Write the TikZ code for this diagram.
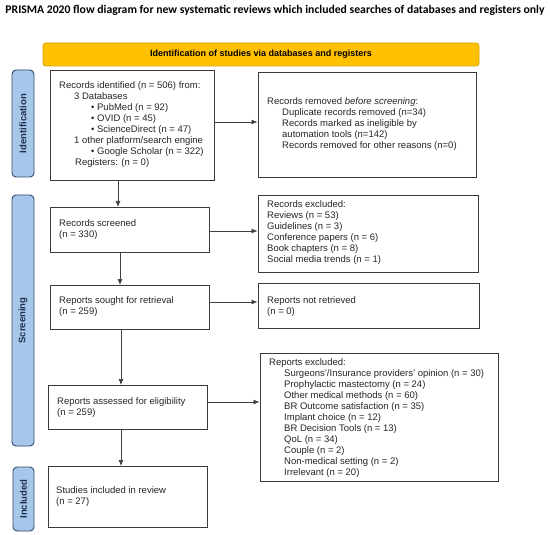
\documentclass[tikz,border=0pt]{standalone}
\usepackage{fontspec}
\setmainfont{Liberation Sans}
\newfontfamily\titlefont{Carlito}
\usetikzlibrary{arrows.meta}
\definecolor{hdrfill}{HTML}{FFC000}
\definecolor{hdrdraw}{HTML}{D9A400}
\definecolor{sidefill}{HTML}{A7C7EA}
\definecolor{sidedraw}{HTML}{2E4A6E}
\definecolor{sidetext}{HTML}{1F3050}
\definecolor{boxdraw}{HTML}{3A3A3A}
\tikzset{
  box/.style={draw=boxdraw, line width=0.9pt, fill=white, inner sep=0pt},
  hdr/.style={draw=hdrdraw, line width=0.8pt, fill=hdrfill, rounded corners=3pt, inner sep=0pt,
    font=\fontsize{9}{11}\selectfont\bfseries},
  side/.style={draw=sidedraw, line width=0.9pt, fill=sidefill, rounded corners=4pt, inner sep=0pt},
  sidelbl/.style={rotate=90, font=\fontsize{9.5}{11}\selectfont\bfseries, text=sidetext, inner sep=0pt},
  txt/.style={anchor=north west, align=left, inner sep=0pt, font=\fontsize{9.5}{11}\selectfont, text=black!85},
  arr/.style={draw=black!75, line width=0.7pt, -{Latex[length=6pt,width=5pt]}},
}
\newcommand{\rectnode}[6]{% name, style, x1, y1, x2, y2
  \node[#2, minimum width={(#5-#3)*1pt}, minimum height={(#6-#4)*1pt}] (#1) at ({(#3+#5)/2},{(#4+#6)/2}) {};}
\begin{document}
\begin{tikzpicture}[x=1pt,y=-1pt]
\useasboundingbox (0,0) rectangle (550,535);
\fill[white] (0,0) rectangle (550,535);

% title
\node[anchor=center, inner sep=0pt, font=\titlefont\fontsize{11.7}{13}\selectfont\bfseries] (title) at (275,10) {PRISMA 2020 flow diagram for new systematic reviews which included searches of databases and registers only};

% header
\node[hdr, minimum width=436pt, minimum height=23pt] (hdr) at (261,54.5) {Identification of studies via databases and registers};

% side bars
\rectnode{sideI}{side}{12}{70}{34}{177}
\rectnode{sideS}{side}{12}{195}{34}{446}
\rectnode{sideN}{side}{13}{467}{34}{531}
\node[sidelbl] at (sideI.center) {Identification};
\node[sidelbl] at (sideS.center) {Screening};
\node[sidelbl] at (sideN.center) {Included};

% boxes
\rectnode{b1}{box}{50}{70}{214}{180}
\rectnode{b2}{box}{258}{72}{476}{177}
\rectnode{b3}{box}{50}{207}{209}{252}
\rectnode{b4}{box}{258}{195}{478}{272}
\rectnode{b5}{box}{50}{285}{209}{329}
\rectnode{b6}{box}{258}{283}{479}{328}
\rectnode{b7}{box}{48}{385}{207}{429}
\rectnode{b8}{box}{260}{353}{498}{481}
\rectnode{b9}{box}{48}{466}{207}{527}

% texts
\node[txt] (t1) at (59,81) {\strut Records identified (n = 506) from:\\
\hspace*{15pt}3 Databases\\
\hspace*{32pt}•\ PubMed (n = 92)\\
\hspace*{32pt}•\ OVID (n = 45)\\
\hspace*{32pt}•\ ScienceDirect (n = 47)\\
\hspace*{15pt}1 other platform/search engine\\
\hspace*{32pt}•\ Google Scholar (n = 322)\\
\hspace*{16pt}Registers: (n = 0)};

\node[txt] (t2) at (267,97) {\strut Records removed \textit{before screening}:\\
\hspace*{15pt}Duplicate records removed (n=34)\\
\hspace*{15pt}Records marked as ineligible by\\
\hspace*{15pt}automation tools (n=142)\\
\hspace*{15pt}Records removed for other reasons (n=0)};

\node[txt] (t3) at (59,218.5) {\strut Records screened\\(n = 330)};

\node[txt] (t4) at (267,200) {\strut Records excluded:\\
Reviews (n = 53)\\
Guidelines (n = 3)\\
Conference papers (n = 6)\\
Book chapters (n = 8)\\
Social media trends (n = 1)};

\node[txt] (t5) at (59,295.5) {\strut Reports sought for retrieval\\(n = 259)};
\node[txt] (t6) at (267,295.5) {\strut Reports not retrieved\\(n = 0)};
\node[txt] (t7) at (57,396.5) {\strut Reports assessed for eligibility\\(n = 259)};

\node[txt] (t8) at (269,357.5) {\strut Reports excluded:\\
\hspace*{15pt}Surgeons'/Insurance providers' opinion (n = 30)\\
\hspace*{15pt}Prophylactic mastectomy (n = 24)\\
\hspace*{15pt}Other medical methods (n = 60)\\
\hspace*{15pt}BR Outcome satisfaction (n = 35)\\
\hspace*{15pt}Implant choice (n = 12)\\
\hspace*{15pt}BR Decision Tools (n = 13)\\
\hspace*{15pt}QoL (n = 34)\\
\hspace*{15pt}Couple (n = 2)\\
\hspace*{15pt}Non-medical setting (n = 2)\\
\hspace*{15pt}Irrelevant (n = 20)};

\node[txt] (t9) at (56,485.5) {\strut Studies included in review\\(n = 27)};

% connectors
\draw[arr] (b1.east |- 0,122) -- (b2.west |- 0,122);
\draw[arr] (118,180) -- (118,207);
\draw[arr] (b3.east |- 0,231) -- (b4.west |- 0,231);
\draw[arr] (120,252) -- (120,285);
\draw[arr] (b5.east |- 0,302) -- (b6.west |- 0,302);
\draw[arr] (121,329) -- (121,385);
\draw[arr] (b7.east |- 0,402) -- (b8.west |- 0,402);
\draw[arr] (121,429) -- (121,466);
\end{tikzpicture}
\end{document}
